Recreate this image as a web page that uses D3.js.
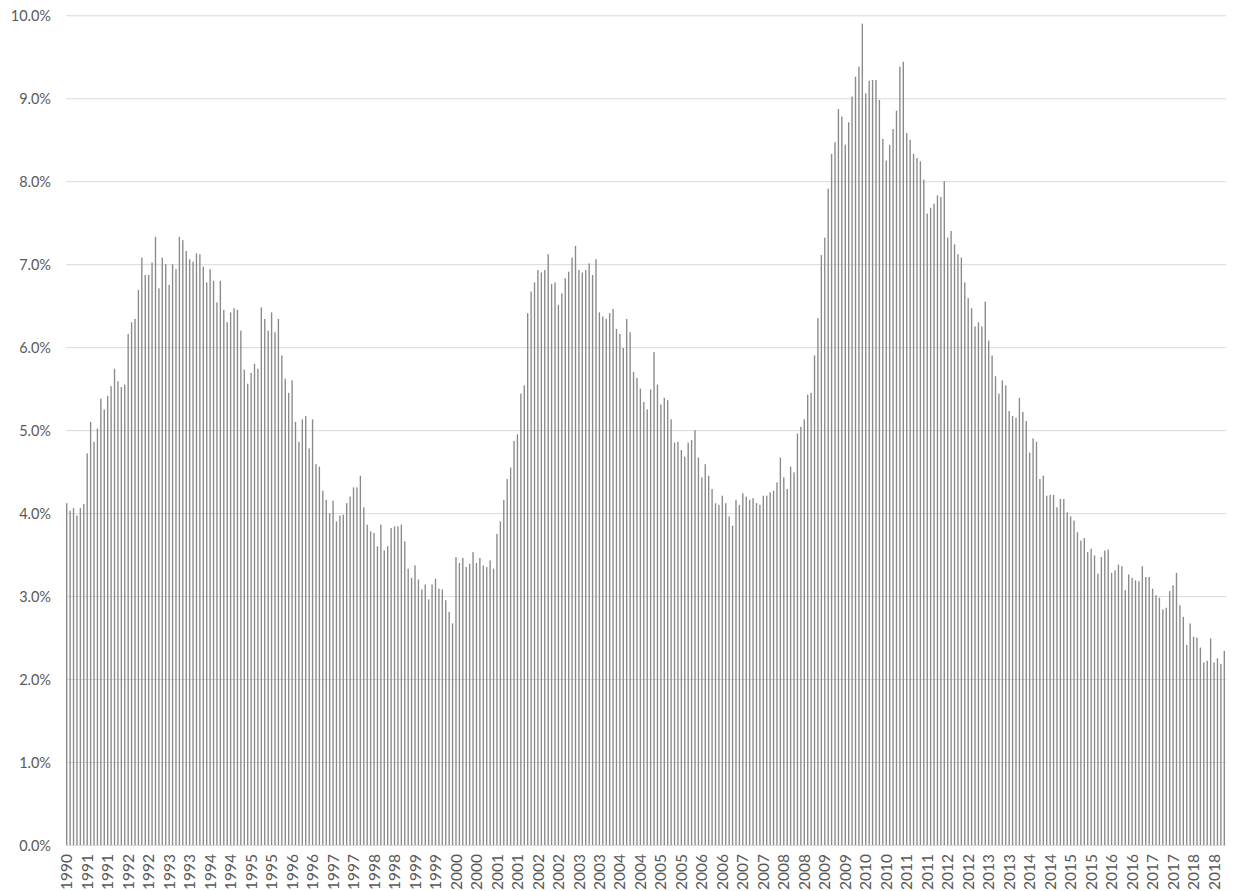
<!DOCTYPE html>
<meta charset="utf-8">

<style type="text/css">
	body {
		margin: 0;
		background: #fff;
	}
	svg text {
		font-family: Lato, "Open Sans", sans-serif;
		font-size: 14.5px;
		fill: #595959;
	}
	.xlabels text {
		font-size: 15.5px;
	}
	.grid line {
		stroke: #d9d9d9;
		stroke-width: 1;
	}
	.bar {
		fill: #8a8a8a;
	}
</style>

<body>

</body>

<script src="https://d3js.org/d3.v7.min.js"></script>

<script>

	// monthly series, first month Jul 1990
	var startMonth = new Date(1990, 6, 1);

	var values = [
		// 1990 - 1995
		4.12, 4.03, 4.06, 3.97, 4.06, 4.11, 4.72, 5.10, 4.86, 5.02, 5.38, 5.25, 5.41, 5.53, 5.74, 5.59,
		5.52, 5.55, 6.16, 6.30, 6.34, 6.69, 7.08, 6.87, 6.87, 7.02, 7.33, 6.71, 7.08, 7.00, 6.75, 7.00,
		6.94, 7.33, 7.29, 7.16, 7.06, 7.03, 7.13, 7.12, 6.97, 6.78, 6.94, 6.80, 6.54, 6.80, 6.45, 6.30,
		6.42, 6.47, 6.45, 6.20, 5.73, 5.56, 5.69, 5.80,
		// 1995 - 1999
		5.74, 6.48, 6.34, 6.20, 6.42, 6.18, 6.34, 5.90, 5.62, 5.45, 5.60, 5.10, 4.86, 5.13, 5.17, 4.78,
		5.13, 4.59, 4.56, 4.27, 4.16, 4.00, 4.15, 3.90, 3.97, 3.98, 4.12, 4.20, 4.31, 4.31, 4.45, 4.07,
		3.86, 3.78, 3.76, 3.60, 3.86, 3.55, 3.60, 3.82, 3.84, 3.84, 3.86, 3.66, 3.33, 3.22, 3.37, 3.20,
		3.08, 3.14, 2.96, 3.14, 3.21, 3.09, 3.08, 2.95, 2.81,
		// 1999 - 2004
		2.67, 3.47, 3.40, 3.46, 3.35, 3.39, 3.53, 3.40, 3.46, 3.37, 3.35, 3.43, 3.33, 3.75, 3.90, 4.16,
		4.41, 4.55, 4.87, 4.95, 5.44, 5.54, 6.41, 6.67, 6.78, 6.93, 6.90, 6.93, 7.12, 6.76, 6.78, 6.51,
		6.65, 6.83, 6.91, 7.08, 7.22, 6.93, 6.90, 6.93, 7.01, 6.87, 7.06, 6.42, 6.37, 6.34, 6.41, 6.46,
		6.22, 6.16, 5.99, 6.34, 6.18, 5.70, 5.63, 5.50, 5.34,
		// 2004 - 2008
		5.25, 5.49, 5.94, 5.55, 5.31, 5.39, 5.36, 5.13, 4.85, 4.86, 4.76, 4.68, 4.85, 4.88, 5.00, 4.67,
		4.43, 4.59, 4.45, 4.29, 4.12, 4.10, 4.21, 4.12, 3.96, 3.85, 4.16, 4.10, 4.24, 4.20, 4.16, 4.18,
		4.12, 4.10, 4.21, 4.21, 4.25, 4.27, 4.37, 4.67, 4.43, 4.29, 4.56, 4.49, 4.96, 5.04, 5.13, 5.43,
		5.45, 5.90, 6.35,
		// 2009 - 2013
		7.11, 7.32, 7.91, 8.33, 8.47, 8.87, 8.78, 8.44, 8.71, 9.02, 9.26, 9.38, 9.90, 9.06, 9.21, 9.22,
		9.22, 8.98, 8.51, 8.25, 8.44, 8.63, 8.85, 9.38, 9.44, 8.58, 8.50, 8.33, 8.28, 8.24, 8.02, 7.61,
		7.68, 7.73, 7.83, 7.81, 8.00, 7.32, 7.40, 7.24, 7.12, 7.08, 6.78, 6.59, 6.47, 6.25, 6.30, 6.25,
		6.55, 6.08, 5.90, 5.65, 5.44,
		// 2013 - 2018
		5.60, 5.54, 5.23, 5.17, 5.15, 5.39, 5.22, 5.11, 4.73, 4.90, 4.86, 4.41, 4.45, 4.21, 4.22, 4.22,
		4.07, 4.17, 4.17, 4.01, 3.96, 3.91, 3.77, 3.67, 3.70, 3.53, 3.57, 3.49, 3.27, 3.47, 3.55, 3.56,
		3.28, 3.31, 3.38, 3.36, 3.07, 3.26, 3.22, 3.19, 3.18, 3.36, 3.23, 3.23, 3.09, 3.01, 2.98, 2.84,
		2.86, 3.06, 3.13, 3.28, 2.89, 2.75, 2.41, 2.67, 2.51, 2.50, 2.38, 2.20, 2.22, 2.49, 2.20, 2.25,
		2.18, 2.34
	];

	var yTicks = [0, 0.01, 0.02, 0.03, 0.04, 0.05, 0.06, 0.07, 0.08, 0.09, 0.10];

	// category axis shows every 6th month
	var labelStep = 6;

	var months = d3.timeMonth.range(startMonth, d3.timeMonth.offset(startMonth, values.length));

	var data = months.map(function(m, i) { return {month: m, value: values[i] / 100}; });

	var margin = {top: 15.3, right: 9, bottom: 46, left: 65};
	var width = 1235 - margin.left - margin.right;
	var height = 891 - margin.top - margin.bottom;

	var xScale = d3.scaleBand()
		.domain(d3.range(data.length))
		.range([0, width])
		.paddingInner(0.6)
		.paddingOuter(0.3);

	var yScale = d3.scaleLinear()
		.domain([0, 0.10])
		.range([height, 0]);

	var svg = d3.select("body").append("svg")
		.attr("width", 1235)
		.attr("height", 891)
		.append("g")
			.attr("transform", "translate(" + margin.left + "," + margin.top + ")");

	// gridlines
	svg.append("g")
		.attr("class", "grid")
		.call(d3.axisLeft(yScale)
			.tickValues(yTicks)
			.tickSize(-width + 1)
			.tickFormat(""))
		.attr("transform", "translate(1,0)")
		.call(function(g) { g.select(".domain").remove(); });

	// y labels
	svg.append("g")
		.call(d3.axisLeft(yScale)
			.tickValues(yTicks)
			.tickSize(0)
			.tickPadding(14)
			.tickFormat(d3.format(".1%")))
		.call(function(g) { g.select(".domain").remove(); })
		.selectAll("text")
			.attr("dy", "0.35em");

	svg.selectAll(".bar")
		.data(data)
		.enter()
		.append("rect")
		.attr("class", "bar")
		.attr("x", function(d, i) { return xScale(i); })
		.attr("width", xScale.bandwidth())
		.attr("y", function(d) { return yScale(d.value); })
		.attr("height", function(d) { return height - yScale(d.value); });

	// x labels
	var xAxis = d3.axisBottom(xScale)
		.tickValues(d3.range(0, data.length, labelStep))
		.tickSize(0)
		.tickFormat(function(i) { return d3.timeFormat("%Y")(months[i]); });

	svg.append("g")
		.attr("class", "xlabels")
		.attr("transform", "translate(0," + height + ")")
		.call(xAxis)
		.call(function(g) { g.select(".domain").remove(); })
		.selectAll("text")
			.attr("transform", "rotate(-90)")
			.attr("x", -9)
			.attr("y", 0)
			.attr("dy", "0.36em")
			.style("text-anchor", "end");

</script>
